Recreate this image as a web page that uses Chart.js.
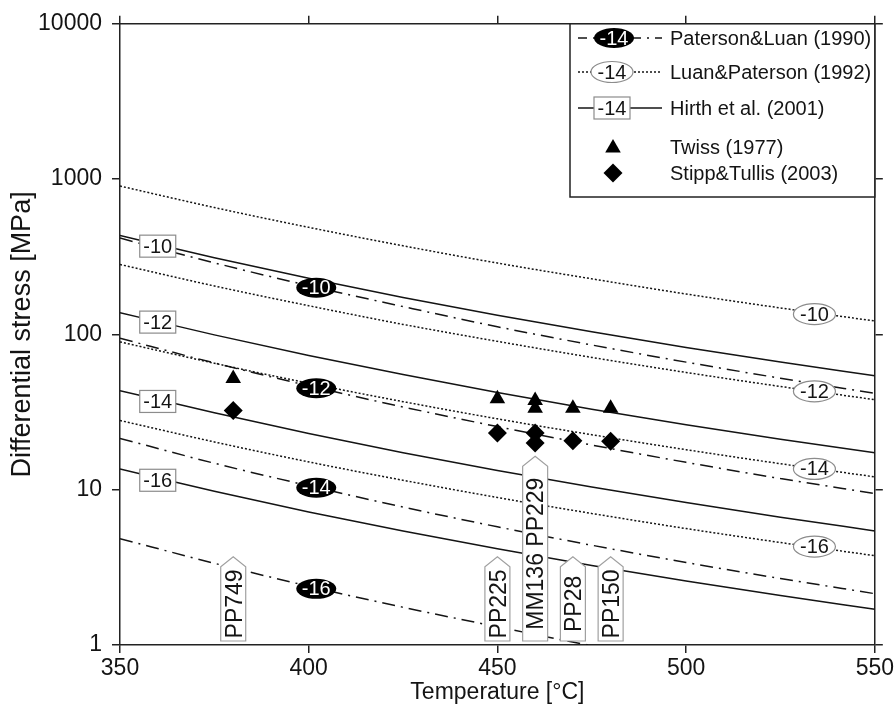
<!DOCTYPE html>
<html>
<head>
<meta charset="utf-8">
<script src="https://cdn.jsdelivr.net/npm/chart.js@4.4.1/dist/chart.umd.min.js"></script>
<style>
html,body{margin:0;padding:0;background:#fff;}
#wrap{width:896px;height:714px;position:relative;}
canvas{display:block;}
</style>
</head>
<body>
<div id="wrap"><canvas id="c" width="896" height="714"></canvas></div>
<script>
// ---------- data ----------
const temps = [350, 375, 400, 425, 450, 475, 500, 525, 550];

// Paterson & Luan (1990), dash-dot, strain rates 1e-10 ... 1e-16
const pl10 = [417, 289, 206, 151, 112, 85.5, 66.3, 52.2, 41.7];
const pl12 = [94.4, 65.5, 46.7, 34.1, 25.5, 19.4, 15.0, 11.8, 9.44];
const pl14 = [21.4, 14.8, 10.6, 7.73, 5.77, 4.39, 3.40, 2.68, 2.14];
const pl16 = [4.84, 3.36, 2.39, 1.75, 1.31, 0.99, 0.77, 0.61, 0.48];

// Luan & Paterson (1992), dotted
const lp10 = [902, 656, 489, 372, 288, 228, 182, 148, 122];
const lp12 = [282, 205, 153, 116, 90.2, 71.1, 56.9, 46.2, 38.0];
const lp14 = [89.5, 65.2, 48.5, 36.9, 28.6, 22.6, 18.1, 14.7, 12.1];
const lp16 = [27.9, 20.3, 15.1, 11.5, 8.91, 7.03, 5.62, 4.57, 3.76];

// Hirth et al. (2001), solid
const hi10 = [433, 312, 230, 173, 133, 104, 82.4, 66.4, 54.2];
const hi12 = [138, 99.3, 73.1, 55.1, 42.3, 33.0, 26.2, 21.1, 17.3];
const hi14 = [43.4, 31.3, 23.0, 17.3, 13.3, 10.4, 8.26, 6.65, 5.43];
const hi16 = [13.6, 9.77, 7.19, 5.42, 4.16, 3.25, 2.58, 2.08, 1.70];

const rateLabels = ['-10', '-12', '-14', '-16'];
const legendRate = '-14';

// curve tag positions
const hirthTagT = 360;
const hirthTagS = [370, 120, 37, 11.5];
const patTagT = 402;
const patTagS = [200, 45, 10.3, 2.3];
const luanTagT = 534;
const luanTagS = [135, 43, 13.6, 4.3];

// paleopiezometer points
const twissT = [380, 450, 460, 460, 470, 480];
const twissS = [52, 38.5, 37.5, 33.5, 33.5, 33.5];
const stippT = [380, 450, 460, 460, 470, 480];
const stippS = [32.4, 23.2, 23.2, 20.0, 20.7, 20.5];

// sample tags
const sampleT = [380, 450, 460, 470, 480];
const sampleNames = ['PP749', 'PP225', 'MM136 PP229', 'PP28', 'PP150'];
const sampleTipS = [3.7, 3.7, 16.4, 3.7, 3.7];

const seriesNames = ['Paterson&Luan (1990)', 'Luan&Paterson (1992)', 'Hirth et al. (2001)', 'Twiss (1977)', 'Stipp&Tullis (2003)'];

const yTicks = [1, 10, 100, 1000, 10000];
const xMin = 350, xMax = 550, yMin = 1, yMax = 10000;

// ---------- helpers ----------
const FONT = '"Liberation Sans", Arial, Helvetica, sans-serif';
const INK = '#141414';
const toXY = arr => arr.map((v, i) => ({x: temps[i], y: v}));
const DASHDOT = [13, 6, 2, 6];
const DOTTED = [2, 2];

function curve(arr, dash) {
  return {
    type: 'line', data: toXY(arr), borderColor: INK, borderWidth: 1.5,
    borderDash: dash, pointRadius: 0, cubicInterpolationMode: 'monotone', fill: false
  };
}

function drawTag(ctx, kind, cx, cy, text) {
  ctx.save();
  ctx.setLineDash([]);
  if (kind === 'box') {
    ctx.fillStyle = '#fff'; ctx.strokeStyle = '#8c8c8c'; ctx.lineWidth = 1.2;
    ctx.fillRect(cx - 18, cy - 11, 36, 22);
    ctx.strokeRect(cx - 18, cy - 11, 36, 22);
    ctx.fillStyle = INK;
  } else {
    ctx.beginPath();
    ctx.ellipse(cx, cy, kind === 'black' ? 20 : 21, kind === 'black' ? 10 : 10.5, 0, 0, Math.PI * 2);
    if (kind === 'black') { ctx.fillStyle = '#000'; ctx.fill(); ctx.fillStyle = '#fff'; }
    else { ctx.fillStyle = '#fff'; ctx.fill(); ctx.strokeStyle = '#8c8c8c'; ctx.lineWidth = 1.2; ctx.stroke(); ctx.fillStyle = INK; }
  }
  ctx.font = '20px ' + FONT;
  ctx.textAlign = 'center'; ctx.textBaseline = 'middle';
  ctx.fillText(text, cx, cy + 1);
  ctx.restore();
}

function drawTri(ctx, x, y, r) {
  ctx.beginPath();
  ctx.moveTo(x, y - r);
  ctx.lineTo(x + r * 0.866, y + r * 0.5);
  ctx.lineTo(x - r * 0.866, y + r * 0.5);
  ctx.closePath(); ctx.fill();
}
function drawDia(ctx, x, y, r) {
  ctx.beginPath();
  ctx.moveTo(x, y - r); ctx.lineTo(x + r, y); ctx.lineTo(x, y + r); ctx.lineTo(x - r, y);
  ctx.closePath(); ctx.fill();
}

const tagPlugin = {
  id: 'tags',
  afterDatasetsDraw(chart) {
    const ctx = chart.ctx, xs = chart.scales.x, ys = chart.scales.y, ca = chart.chartArea;
    ctx.save();
    ctx.beginPath(); ctx.rect(ca.left, ca.top, ca.right - ca.left, ca.bottom - ca.top); ctx.clip();
    for (let i = 0; i < rateLabels.length; i++) {
      drawTag(ctx, 'box', xs.getPixelForValue(hirthTagT), ys.getPixelForValue(hirthTagS[i]), rateLabels[i]);
      drawTag(ctx, 'black', xs.getPixelForValue(patTagT), ys.getPixelForValue(patTagS[i]), rateLabels[i]);
      drawTag(ctx, 'white', xs.getPixelForValue(luanTagT), ys.getPixelForValue(luanTagS[i]), rateLabels[i]);
    }
    // sample tags (pointed boxes with vertical text)
    const w = 25, tip = 10;
    for (let i = 0; i < sampleT.length; i++) {
      const cx = xs.getPixelForValue(sampleT[i]);
      const top = ys.getPixelForValue(sampleTipS[i]);
      const bot = ys.getPixelForValue(yMin) - 4;
      ctx.beginPath();
      ctx.moveTo(cx - w / 2, bot);
      ctx.lineTo(cx - w / 2, top + tip);
      ctx.lineTo(cx, top);
      ctx.lineTo(cx + w / 2, top + tip);
      ctx.lineTo(cx + w / 2, bot);
      ctx.closePath();
      ctx.fillStyle = '#fff'; ctx.fill();
      ctx.strokeStyle = '#a0a0a0'; ctx.lineWidth = 1.2; ctx.setLineDash([]); ctx.stroke();
      ctx.save();
      ctx.translate(cx + 1, (top + tip + bot) / 2);
      ctx.rotate(-Math.PI / 2);
      ctx.font = '23px ' + FONT; ctx.fillStyle = INK;
      ctx.textAlign = 'center'; ctx.textBaseline = 'middle';
      ctx.fillText(sampleNames[i], 0, 1);
      ctx.restore();
    }
    ctx.restore();

    // legend box
    const L = 570, T = ca.top, R = ca.right, B = 197;
    ctx.save();
    ctx.fillStyle = '#fff'; ctx.fillRect(L, T, R - L, B - T);
    ctx.strokeStyle = '#222'; ctx.lineWidth = 1.5; ctx.strokeRect(L, T, R - L, B - T);
    const rows = [38, 72, 108, 147, 173];
    const dashes = [DASHDOT, DOTTED, []];
    const kinds = ['black', 'white', 'box'];
    for (let i = 0; i < 3; i++) {
      ctx.beginPath(); ctx.setLineDash(dashes[i]); ctx.strokeStyle = INK; ctx.lineWidth = 1.5;
      ctx.lineDashOffset = i === 0 ? 4 : 0;
      ctx.moveTo(578, rows[i]); ctx.lineTo(662, rows[i]); ctx.stroke();
      ctx.setLineDash([]);
      drawTag(ctx, kinds[i], i === 0 ? 614 : 612, rows[i], legendRate);
    }
    ctx.fillStyle = '#000';
    drawTri(ctx, 613, rows[3] + 1, 9);
    drawDia(ctx, 613, rows[4], 9.5);
    ctx.font = '20px ' + FONT; ctx.fillStyle = INK; ctx.textAlign = 'left'; ctx.textBaseline = 'middle';
    for (let i = 0; i < 5; i++) ctx.fillText(seriesNames[i], 670, rows[i] + 1);
    ctx.restore();
  }
};

const majorTicks = s => { s.ticks = yTicks.map(v => ({value: v})); };
const axisGrid = {drawOnChartArea: false, drawTicks: true, tickLength: 8, color: '#222', lineWidth: 1.5};
const axisBorder = {display: true, color: '#222', width: 1.5};

new Chart(document.getElementById('c'), {
  type: 'line',
  data: {
    datasets: [
      {type: 'scatter', data: twissT.map((t, i) => ({x: t, y: twissS[i]})), pointStyle: 'triangle',
        pointRadius: 9, pointBackgroundColor: '#000', pointBorderColor: '#000', pointBorderWidth: 0, showLine: false},
      {type: 'scatter', data: stippT.map((t, i) => ({x: t, y: stippS[i]})), pointStyle: 'rectRot',
        pointRadius: 9.5, pointBackgroundColor: '#000', pointBorderColor: '#000', pointBorderWidth: 0, showLine: false},
      curve(hi10, []), curve(hi12, []), curve(hi14, []), curve(hi16, []),
      curve(lp10, DOTTED), curve(lp12, DOTTED), curve(lp14, DOTTED), curve(lp16, DOTTED),
      curve(pl10, DASHDOT), curve(pl12, DASHDOT), curve(pl14, DASHDOT), curve(pl16, DASHDOT)
    ]
  },
  options: {
    responsive: false, animation: false, devicePixelRatio: 1,
    layout: {padding: 0},
    plugins: {legend: {display: false}, tooltip: {enabled: false}},
    scales: {
      x: {
        type: 'linear', position: 'bottom', min: xMin, max: xMax,
        ticks: {stepSize: 50, autoSkip: false, maxRotation: 0, padding: 2, color: INK, font: {family: FONT, size: 23}},
        grid: axisGrid, border: axisBorder,
        title: {display: true, text: 'Temperature [°C]', color: INK, font: {family: FONT, size: 23}, padding: {top: 0, bottom: 8}},
        afterFit: s => { s.height = 69; }
      },
      x2: {
        type: 'linear', position: 'top', min: xMin, max: xMax,
        ticks: {stepSize: 50, display: true, callback: () => ''},
        grid: axisGrid, border: axisBorder,
        afterFit: s => { s.height = 20; }
      },
      y: {
        type: 'logarithmic', position: 'left', min: yMin, max: yMax,
        afterBuildTicks: majorTicks,
        ticks: {autoSkip: false, padding: 10, color: INK, font: {family: FONT, size: 23}, callback: v => String(v)},
        grid: axisGrid, border: axisBorder,
        title: {display: true, text: 'Differential stress [MPa]', color: INK, font: {family: FONT, size: 27}, padding: {top: 6, bottom: 0}},
        afterFit: s => { s.width = 120; }
      },
      y2: {
        type: 'logarithmic', position: 'right', min: yMin, max: yMax,
        afterBuildTicks: majorTicks,
        ticks: {display: true, callback: () => ''},
        grid: axisGrid, border: axisBorder,
        afterFit: s => { s.width = 16; }
      }
    }
  },
  plugins: [tagPlugin]
});
</script>
</body>
</html>
